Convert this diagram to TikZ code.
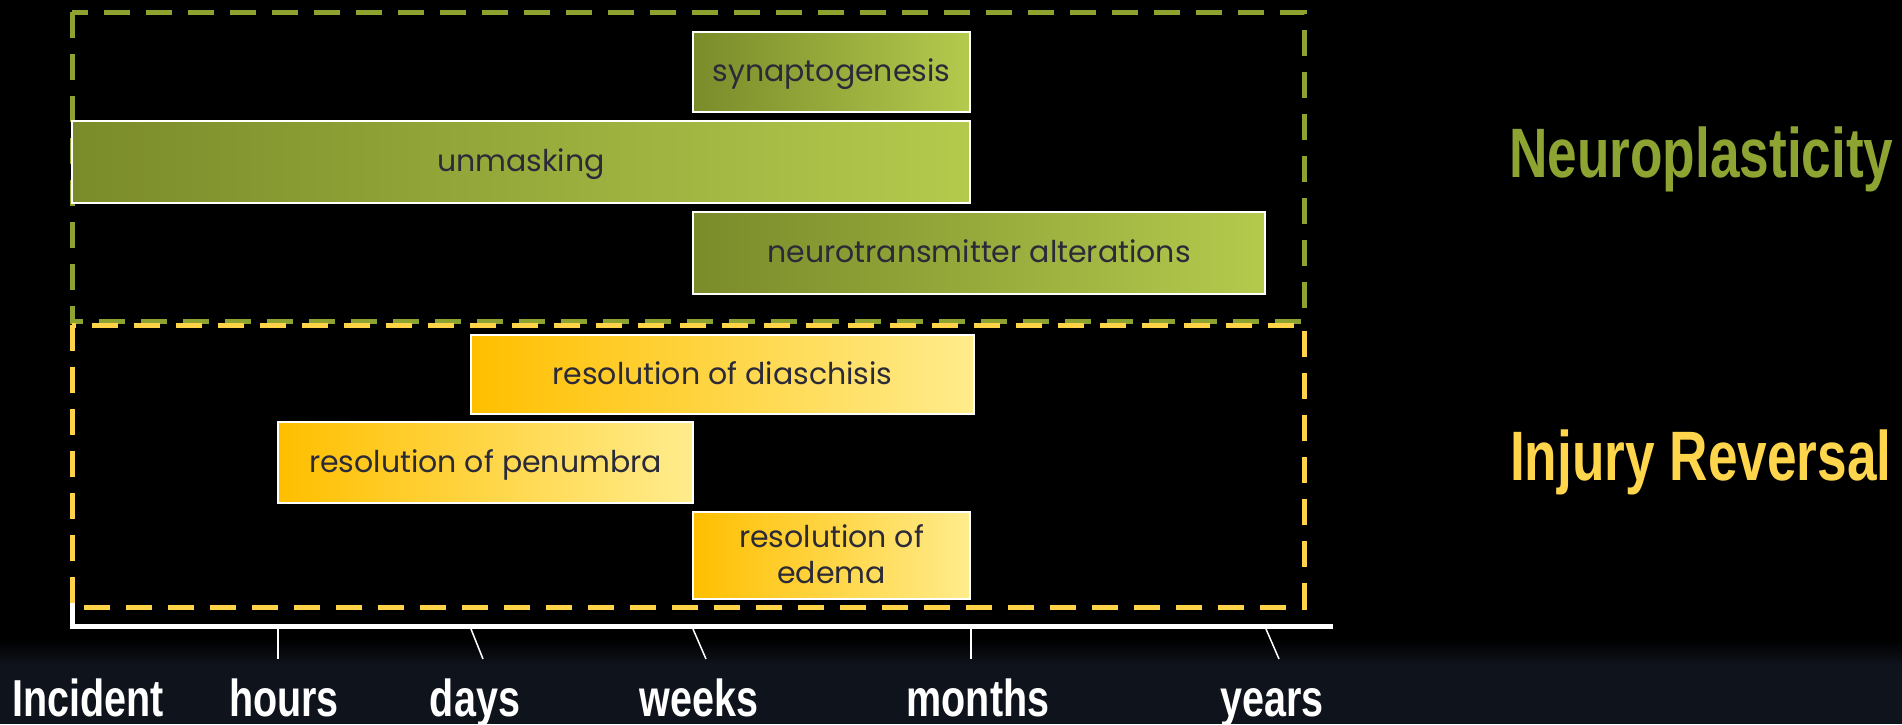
\documentclass[tikz,border=0pt]{standalone}
\usepackage{fontspec}
\newfontfamily\barfont{Poppins}
\newfontfamily\condfont{Liberation Sans}[FakeStretch=0.76]
\definecolor{gdash}{HTML}{8EA22F}
\definecolor{ydash}{HTML}{FFD347}
\definecolor{gleft}{HTML}{7A8B2A}
\definecolor{gright}{HTML}{B3CA4D}
\definecolor{yleft}{HTML}{FFBF00}
\definecolor{yright}{HTML}{FFEC8C}
\definecolor{bartxt}{HTML}{2A2A38}
\definecolor{gtitle}{HTML}{8DA332}
\definecolor{ytitle}{HTML}{FFD54B}
\definecolor{strip}{HTML}{0F131B}
\begin{document}
\begin{tikzpicture}[x=1pt,y=-1pt,
  barbase/.style={draw=white, line width=2pt, inner sep=0pt, text=bartxt,
    font=\barfont\fontsize{30}{36}\selectfont, align=center, text depth=0.32em},
  gbar/.style={barbase, left color=gleft, right color=gright},
  ybar/.style={barbase, left color=yleft, right color=yright},
  gbox/.style={draw=gdash, line width=5pt, dash pattern=on 26pt off 16pt},
  ybox/.style={draw=ydash, line width=5pt, dash pattern=on 26pt off 16pt},
  tickline/.style={draw=white, line width=1.5pt},
  axislbl/.style={anchor=base, text=white, font=\condfont\bfseries\fontsize{52}{60}\selectfont},
  titlelbl/.style={anchor=base east, font=\condfont\bfseries\fontsize{70}{80}\selectfont}
]
\useasboundingbox (0,0) rectangle (1902,724);
\fill[black] (0,0) rectangle (1902,724);
\shade[top color=black, bottom color=strip] (0,640) rectangle (1902,665);
\fill[strip] (0,665) rectangle (1902,724);

% group boxes
\draw[gbox] (72,12) rectangle (1304,321);
\draw[ybox] (72,325) rectangle (1304,607);

% bars
\node[gbar, minimum width=277, minimum height=80] (syn) at (831.5,72) {synaptogenesis};
\node[gbar, minimum width=898, minimum height=82] (unm) at (521,162) {unmasking};
\node[gbar, minimum width=572, minimum height=82] (neu) at (979,253) {neurotransmitter alterations};
\node[ybar, minimum width=503, minimum height=79] (dia) at (722.5,374.5) {resolution of diaschisis};
\node[ybar, minimum width=415, minimum height=81] (pen) at (485.5,462.5) {resolution of penumbra};
\node[ybar, minimum width=277, minimum height=87] (ede) at (831.5,555.5) {resolution of\\edema};

% axis
\coordinate (axL) at (72,603);
\coordinate (axO) at (72,626);
\coordinate (axR) at (1333,626);
\draw[draw=white, line width=5pt] (axL) -- (axO) -- (axR);

% ticks
\coordinate (hT) at (278,629);  \coordinate (hB) at (278,659);
\coordinate (dT) at (471,629);  \coordinate (dB) at (483,659);
\coordinate (wT) at (693,629);  \coordinate (wB) at (706,659);
\coordinate (mT) at (971,629);  \coordinate (mB) at (971,659);
\coordinate (yT) at (1266,629); \coordinate (yB) at (1279,659);
\draw[tickline] (hT) -- (hB);
\draw[tickline] (dT) -- (dB);
\draw[tickline] (wT) -- (wB);
\draw[tickline] (mT) -- (mB);
\draw[tickline] (yT) -- (yB);

% axis labels
\node[axislbl] (linc) at (88,716) {Incident};
\node[axislbl] (lhou) at (284,716) {hours};
\node[axislbl] (lday) at (475,716) {days};
\node[axislbl] (lwee) at (699,716) {weeks};
\node[axislbl] (lmon) at (978,716) {months};
\node[axislbl] (lyea) at (1272,716) {years};

% titles
\node[titlelbl, text=gtitle] (tneu) at (1897,177) {Neuroplasticity};
\node[titlelbl, text=ytitle] (tinj) at (1895,480) {Injury Reversal};
\end{tikzpicture}
\end{document}
